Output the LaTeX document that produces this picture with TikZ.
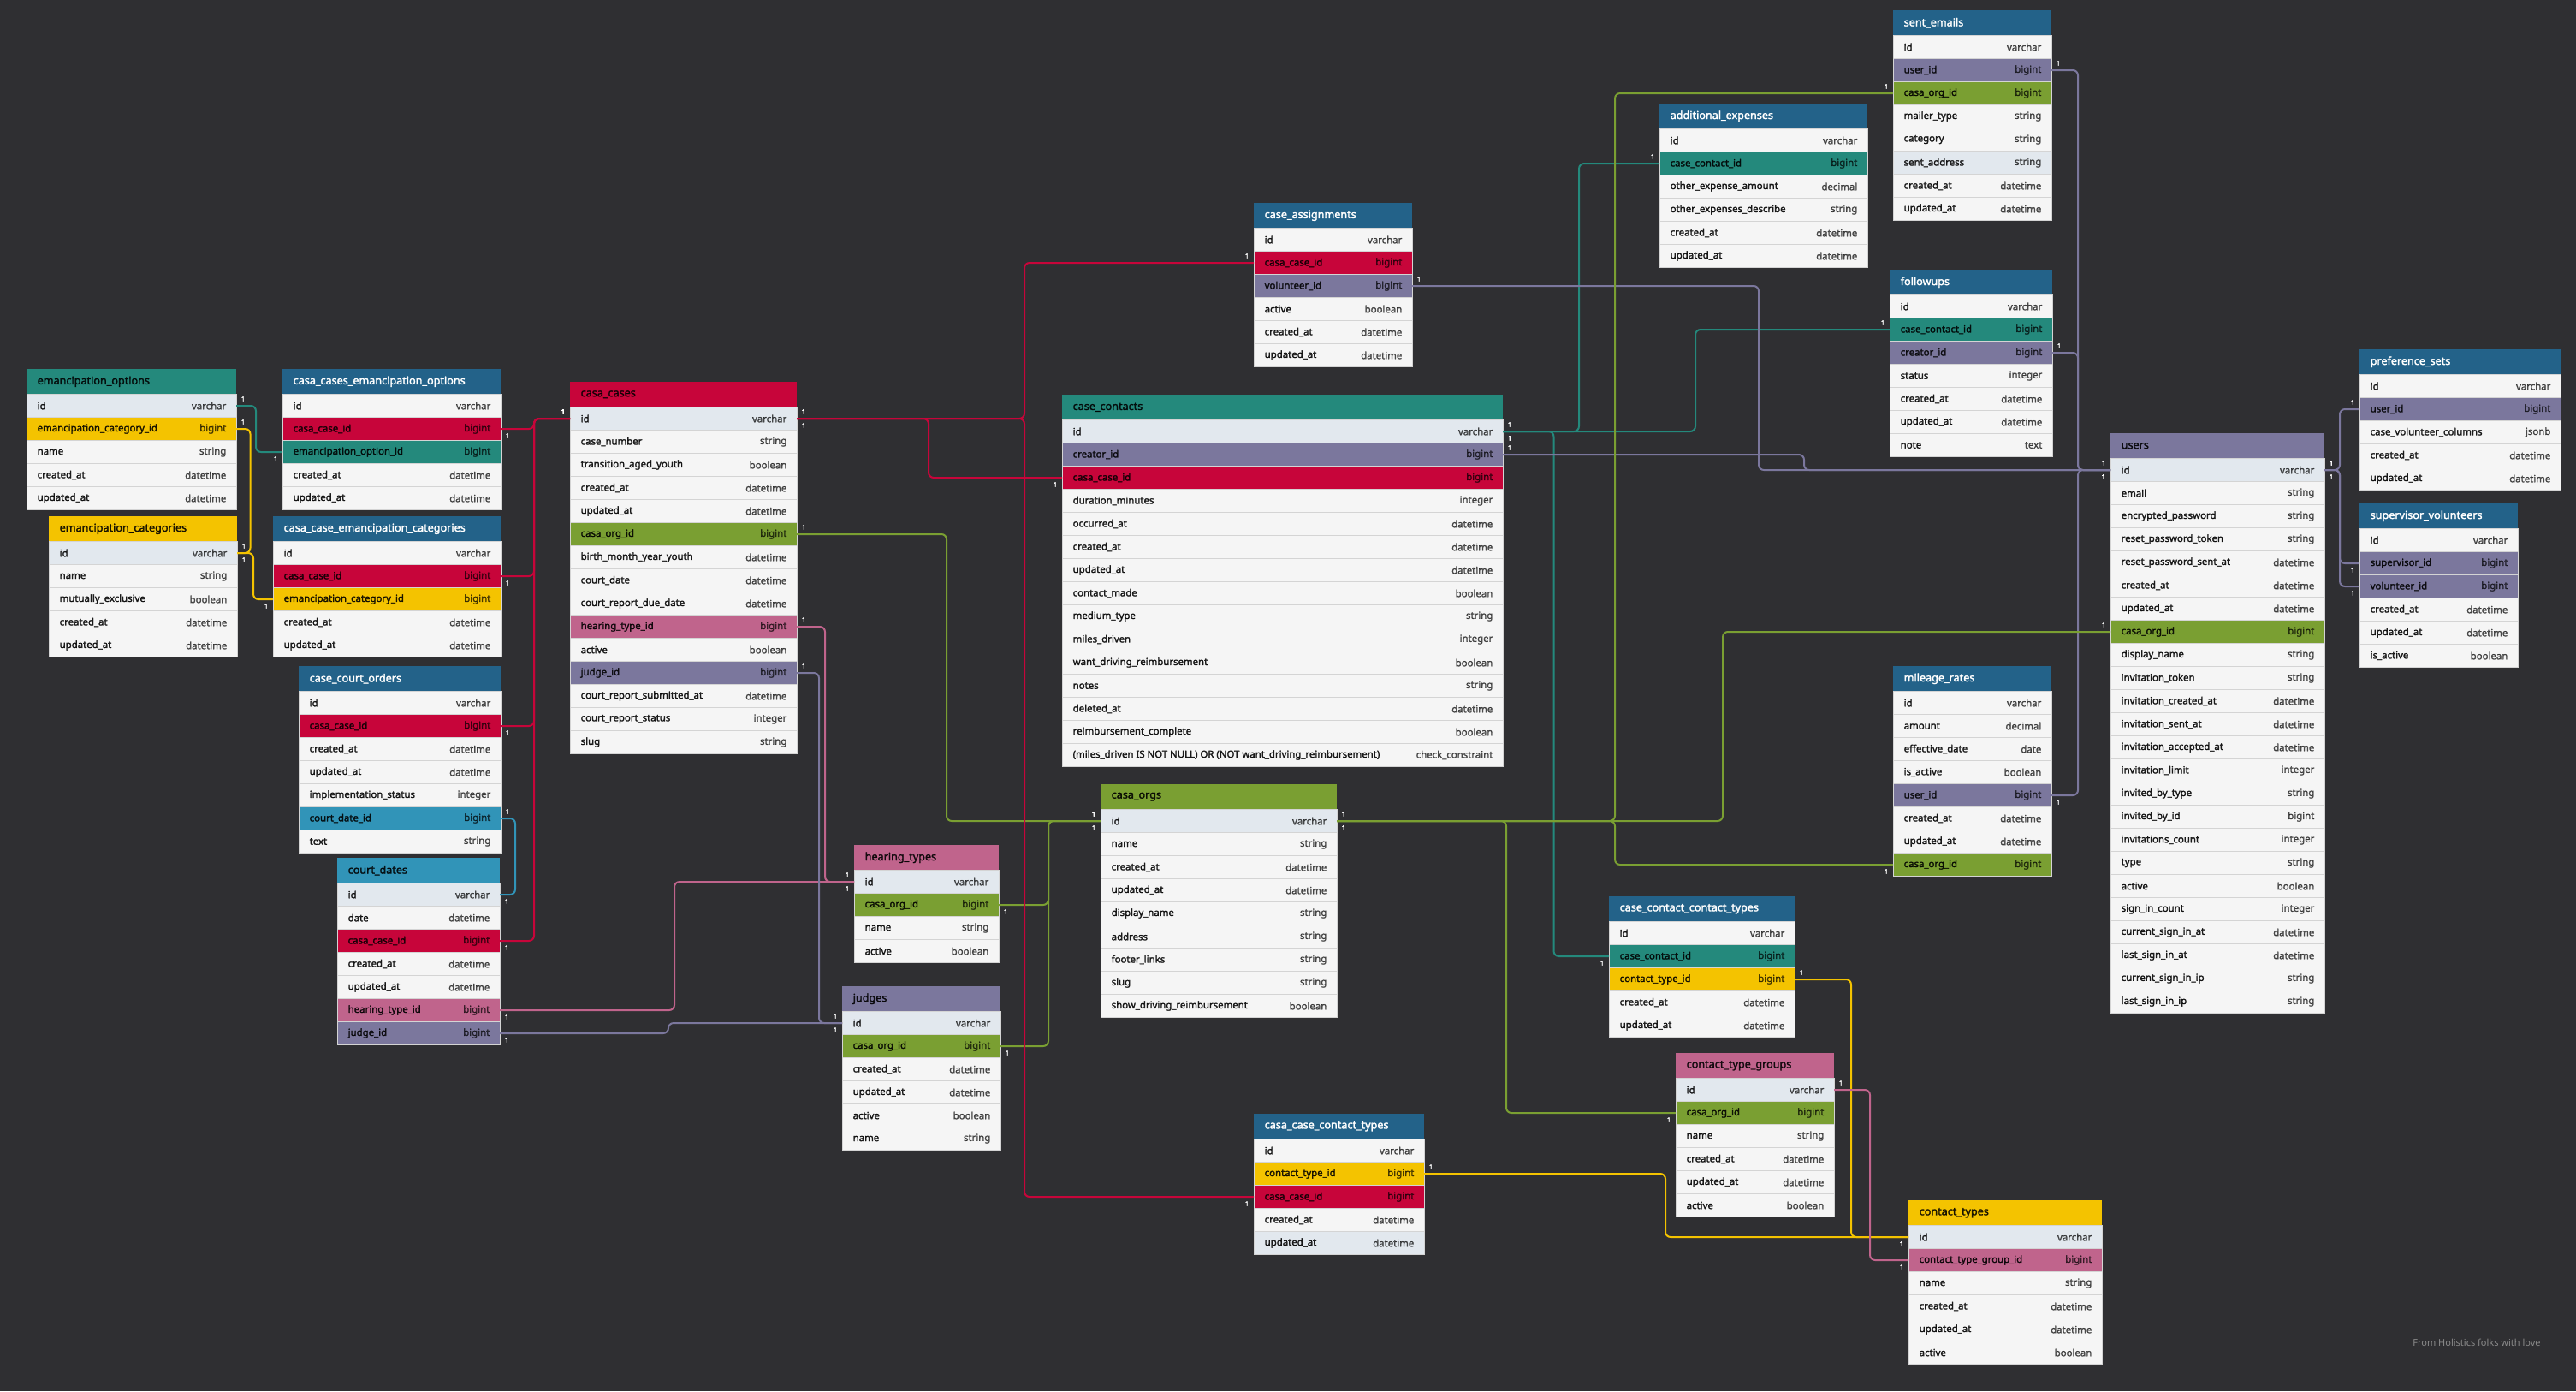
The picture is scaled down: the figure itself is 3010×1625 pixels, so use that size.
\documentclass[tikz,border=0pt]{standalone}
\usepackage{fontspec}
\setmainfont{Noto Sans}[BoldFont={Noto Sans}, BoldFeatures={FakeBold=2.2}]
\usetikzlibrary{calc}

\definecolor{bgc}{HTML}{2F2F32}
\definecolor{bluec}{HTML}{236289}
\definecolor{tealc}{HTML}{24897C}
\definecolor{redc}{HTML}{C7053A}
\definecolor{yellowc}{HTML}{F4C300}
\definecolor{purplec}{HTML}{7B779D}
\definecolor{pinkc}{HTML}{C0648C}
\definecolor{greenc}{HTML}{7A9F32}
\definecolor{cyanc}{HTML}{3194B8}
\definecolor{rowc}{HTML}{F5F5F5}
\definecolor{pkc}{HTML}{E2E8EE}
\definecolor{sepc}{HTML}{D4D4D4}
\definecolor{creditc}{HTML}{8A8A8A}

\tikzset{
  head/.style={inner sep=0, outer sep=0, minimum height=29.5},
  field/.style={inner sep=0, outer sep=0, minimum height=27, draw=sepc, line width=.8pt},
  lighttitle/.style={text=white},
  darktitle/.style={text=black, text opacity=.85},
  tabtitle/.style={inner sep=0, font=\bfseries\fontsize{12.6}{14}\selectfont},
  fname/.style={inner sep=0, text=black, text opacity=.85, font=\bfseries\fontsize{11.4}{13}\selectfont},
  ftype/.style={inner sep=0, text=black, text opacity=.62, font=\bfseries\fontsize{11.4}{13}\selectfont},
  rel/.style={draw=#1, line width=2pt, rounded corners=6pt},
  onelabel/.style={inner sep=0, text=white, font=\bfseries\fontsize{7.5}{8}\selectfont},
}

% table: name, left, top, right, header fill, title style, title, rows
\newcommand{\dbtable}[8]{%
  \node[head, fill=#5, minimum width={#4-#2}, anchor=north west] (#1) at (#2,#3) {};
  \node[tabtitle, #6, anchor=west] (#1-title) at ([xshift=12.5]#1.west) {#7};
  \foreach \f/\t/\c [count=\i] in {#8}{
    \node[field, fill=\c, minimum width={#4-#2}, anchor=north west] (#1-\i) at (#2,{#3+29.5+(\i-1)*27}) {};
    \node[fname, anchor=west] (#1-\i-n) at ([xshift=12.5]#1-\i.west) {\f};
    \node[ftype, anchor=east] (#1-\i-t) at ([xshift=-11.5]#1-\i.east) {\t};
  }
}

% relation: colour, from, x of the bend, to
\newcounter{relno}
\newcommand{\rel}[4]{%
  \stepcounter{relno}%
  \draw[rel=#1] let \p1=(#2), \p2=(#4),
      \n1={ifthenelse(\y2<\y1,8,-8)},
      \n2={ifthenelse(#3pt>\x1,8,-8)},
      \n3={ifthenelse(#3pt>\x2,8,-8)} in
    (\p1) -- (#3pt,\y1) -- (#3pt,\y2) -- (\p2)
    (\x1+\n2*1pt,\y1+\n1*1pt) node[onelabel] (one-\arabic{relno}-a) {1}
    (\x2+\n3*1pt,\y2-\n1*1pt) node[onelabel] (one-\arabic{relno}-b) {1};
}

\begin{document}
\catcode`\_=12
\begin{tikzpicture}[x=1pt,y=-1pt]
\useasboundingbox (0,0) rectangle (3010,1625);
\fill[bgc] (0,0) rectangle (3010,1625);

% tables
\dbtable{eo}{31}{431}{276}{tealc}{darktitle}{emancipation_options}{id/varchar/pkc, emancipation_category_id/bigint/yellowc, name/string/rowc, created_at/datetime/rowc, updated_at/datetime/rowc}
\dbtable{cceo}{330}{431}{585}{bluec}{lighttitle}{casa_cases_emancipation_options}{id/varchar/rowc, casa_case_id/bigint/redc, emancipation_option_id/bigint/tealc, created_at/datetime/rowc, updated_at/datetime/rowc}
\dbtable{ec}{57}{603}{277}{yellowc}{darktitle}{emancipation_categories}{id/varchar/pkc, name/string/rowc, mutually_exclusive/boolean/rowc, created_at/datetime/rowc, updated_at/datetime/rowc}
\dbtable{ccec}{319}{603}{585}{bluec}{lighttitle}{casa_case_emancipation_categories}{id/varchar/rowc, casa_case_id/bigint/redc, emancipation_category_id/bigint/yellowc, created_at/datetime/rowc, updated_at/datetime/rowc}
\dbtable{cco}{349}{778}{585}{bluec}{lighttitle}{case_court_orders}{id/varchar/rowc, casa_case_id/bigint/redc, created_at/datetime/rowc, updated_at/datetime/rowc, implementation_status/integer/rowc, court_date_id/bigint/cyanc, text/string/rowc}
\dbtable{cd}{394}{1002}{584}{cyanc}{darktitle}{court_dates}{id/varchar/pkc, date/datetime/rowc, casa_case_id/bigint/redc, created_at/datetime/rowc, updated_at/datetime/rowc, hearing_type_id/bigint/pinkc, judge_id/bigint/purplec}
\dbtable{cc}{666}{446}{931}{redc}{darktitle}{casa_cases}{id/varchar/pkc, case_number/string/rowc, transition_aged_youth/boolean/rowc, created_at/datetime/rowc, updated_at/datetime/rowc, casa_org_id/bigint/greenc, birth_month_year_youth/datetime/rowc, court_date/datetime/rowc, court_report_due_date/datetime/rowc, hearing_type_id/bigint/pinkc, active/boolean/rowc, judge_id/bigint/purplec, court_report_submitted_at/datetime/rowc, court_report_status/integer/rowc, slug/string/rowc}
\dbtable{ca}{1465}{237}{1650}{bluec}{lighttitle}{case_assignments}{id/varchar/rowc, casa_case_id/bigint/redc, volunteer_id/bigint/purplec, active/boolean/rowc, created_at/datetime/rowc, updated_at/datetime/rowc}
\dbtable{cct}{1241}{461}{1756}{tealc}{darktitle}{case_contacts}{id/varchar/pkc, creator_id/bigint/purplec, casa_case_id/bigint/redc, duration_minutes/integer/rowc, occurred_at/datetime/rowc, created_at/datetime/rowc, updated_at/datetime/rowc, contact_made/boolean/rowc, medium_type/string/rowc, miles_driven/integer/rowc, want_driving_reimbursement/boolean/rowc, notes/string/rowc, deleted_at/datetime/rowc, reimbursement_complete/boolean/rowc, {(miles_driven IS NOT NULL) OR (NOT want_driving_reimbursement)}/check_constraint/rowc}
\dbtable{ae}{1939}{121}{2182}{bluec}{lighttitle}{additional_expenses}{id/varchar/rowc, case_contact_id/bigint/tealc, other_expense_amount/decimal/rowc, other_expenses_describe/string/rowc, created_at/datetime/rowc, updated_at/datetime/rowc}
\dbtable{se}{2212}{12}{2397}{bluec}{lighttitle}{sent_emails}{id/varchar/rowc, user_id/bigint/purplec, casa_org_id/bigint/greenc, mailer_type/string/rowc, category/string/rowc, sent_address/string/pkc, created_at/datetime/rowc, updated_at/datetime/rowc}
\dbtable{fu}{2208}{315}{2398}{bluec}{lighttitle}{followups}{id/varchar/rowc, case_contact_id/bigint/tealc, creator_id/bigint/purplec, status/integer/rowc, created_at/datetime/rowc, updated_at/datetime/rowc, note/text/rowc}
\dbtable{us}{2466}{506}{2716}{purplec}{darktitle}{users}{id/varchar/pkc, email/string/rowc, encrypted_password/string/rowc, reset_password_token/string/rowc, reset_password_sent_at/datetime/rowc, created_at/datetime/rowc, updated_at/datetime/rowc, casa_org_id/bigint/greenc, display_name/string/rowc, invitation_token/string/rowc, invitation_created_at/datetime/rowc, invitation_sent_at/datetime/rowc, invitation_accepted_at/datetime/rowc, invitation_limit/integer/rowc, invited_by_type/string/rowc, invited_by_id/bigint/rowc, invitations_count/integer/rowc, type/string/rowc, active/boolean/rowc, sign_in_count/integer/rowc, current_sign_in_at/datetime/rowc, last_sign_in_at/datetime/rowc, current_sign_in_ip/string/rowc, last_sign_in_ip/string/rowc}
\dbtable{ps}{2757}{408}{2992}{bluec}{lighttitle}{preference_sets}{id/varchar/rowc, user_id/bigint/purplec, case_volunteer_columns/jsonb/rowc, created_at/datetime/rowc, updated_at/datetime/rowc}
\dbtable{sv}{2757}{588}{2942}{bluec}{lighttitle}{supervisor_volunteers}{id/varchar/rowc, supervisor_id/bigint/purplec, volunteer_id/bigint/purplec, created_at/datetime/rowc, updated_at/datetime/rowc, is_active/boolean/rowc}
\dbtable{mr}{2212}{778}{2397}{bluec}{lighttitle}{mileage_rates}{id/varchar/rowc, amount/decimal/rowc, effective_date/date/rowc, is_active/boolean/rowc, user_id/bigint/purplec, created_at/datetime/rowc, updated_at/datetime/rowc, casa_org_id/bigint/greenc}
\dbtable{co}{1286}{916}{1562}{greenc}{darktitle}{casa_orgs}{id/varchar/pkc, name/string/rowc, created_at/datetime/rowc, updated_at/datetime/rowc, display_name/string/rowc, address/string/rowc, footer_links/string/rowc, slug/string/rowc, show_driving_reimbursement/boolean/rowc}
\dbtable{ht}{998}{987}{1167}{pinkc}{darktitle}{hearing_types}{id/varchar/pkc, casa_org_id/bigint/greenc, name/string/rowc, active/boolean/rowc}
\dbtable{jd}{984}{1152}{1169}{purplec}{darktitle}{judges}{id/varchar/pkc, casa_org_id/bigint/greenc, created_at/datetime/rowc, updated_at/datetime/rowc, active/boolean/rowc, name/string/rowc}
\dbtable{ccctt}{1880}{1047}{2097}{bluec}{lighttitle}{case_contact_contact_types}{id/varchar/rowc, case_contact_id/bigint/tealc, contact_type_id/bigint/yellowc, created_at/datetime/rowc, updated_at/datetime/rowc}
\dbtable{ctg}{1958}{1230}{2143}{pinkc}{darktitle}{contact_type_groups}{id/varchar/pkc, casa_org_id/bigint/greenc, name/string/rowc, created_at/datetime/rowc, updated_at/datetime/rowc, active/boolean/rowc}
\dbtable{ct}{2230}{1402}{2456}{yellowc}{darktitle}{contact_types}{id/varchar/pkc, contact_type_group_id/bigint/pinkc, name/string/rowc, created_at/datetime/rowc, updated_at/datetime/rowc, active/boolean/rowc}
\dbtable{ccct}{1465}{1301}{1664}{bluec}{lighttitle}{casa_case_contact_types}{id/varchar/rowc, contact_type_id/bigint/yellowc, casa_case_id/bigint/redc, created_at/datetime/rowc, updated_at/datetime/pkc}

% relations
\rel{tealc}{eo-1.east}{299}{cceo-3.west}
\rel{yellowc}{eo-2.east}{292.5}{ec-1.east}
\rel{yellowc}{ec-1.east}{296}{ccec-3.west}
\rel{redc}{cceo-2.east}{624}{cc-1.west}
\rel{redc}{ccec-2.east}{624}{cc-1.west}
\rel{redc}{cco-2.east}{624}{cc-1.west}
\rel{redc}{cd-3.east}{624}{cc-1.west}
\rel{cyanc}{cco-6.east}{602}{cd-1.east}
\rel{pinkc}{cd-6.east}{788}{ht-1.west}
\rel{purplec}{cd-7.east}{781}{jd-1.west}
\rel{pinkc}{cc-10.east}{964}{ht-1.west}
\rel{purplec}{cc-12.east}{957}{jd-1.west}
\rel{greenc}{cc-6.east}{1106}{co-1.west}
\rel{greenc}{ht-2.east}{1225}{co-1.west}
\rel{greenc}{jd-2.east}{1225}{co-1.west}
\rel{redc}{cc-1.east}{1197}{ca-2.west}
\rel{redc}{cc-1.east}{1085}{cct-3.west}
\rel{redc}{cc-1.east}{1197}{ccct-3.west}
\rel{tealc}{cct-1.east}{1845}{ae-2.west}
\rel{tealc}{cct-1.east}{1981}{fu-2.west}
\rel{tealc}{cct-1.east}{1815.5}{ccctt-2.west}
\rel{purplec}{ca-3.east}{2055}{us-1.west}
\rel{purplec}{cct-2.east}{2108}{us-1.west}
\rel{purplec}{se-2.east}{2428}{us-1.west}
\rel{purplec}{fu-3.east}{2428}{us-1.west}
\rel{purplec}{mr-5.east}{2428}{us-1.west}
\rel{purplec}{us-1.east}{2734}{ps-2.west}
\rel{purplec}{us-1.east}{2734}{sv-2.west}
\rel{purplec}{us-1.east}{2734}{sv-3.west}
\rel{greenc}{co-1.east}{1887}{se-3.west}
\rel{greenc}{co-1.east}{1887}{mr-8.west}
\rel{greenc}{co-1.east}{2013}{us-8.west}
\rel{greenc}{co-1.east}{1760}{ctg-2.west}
\rel{yellowc}{ccctt-3.east}{2163}{ct-1.west}
\rel{yellowc}{ccct-2.east}{1946}{ct-1.west}
\rel{pinkc}{ctg-1.east}{2185}{ct-2.west}

\node[text=creditc, inner sep=0, font=\fontsize{11}{13}\selectfont] (credit) at (2894,1569) {\underline{From Holistics folks with love}};
\end{tikzpicture}
\end{document}
